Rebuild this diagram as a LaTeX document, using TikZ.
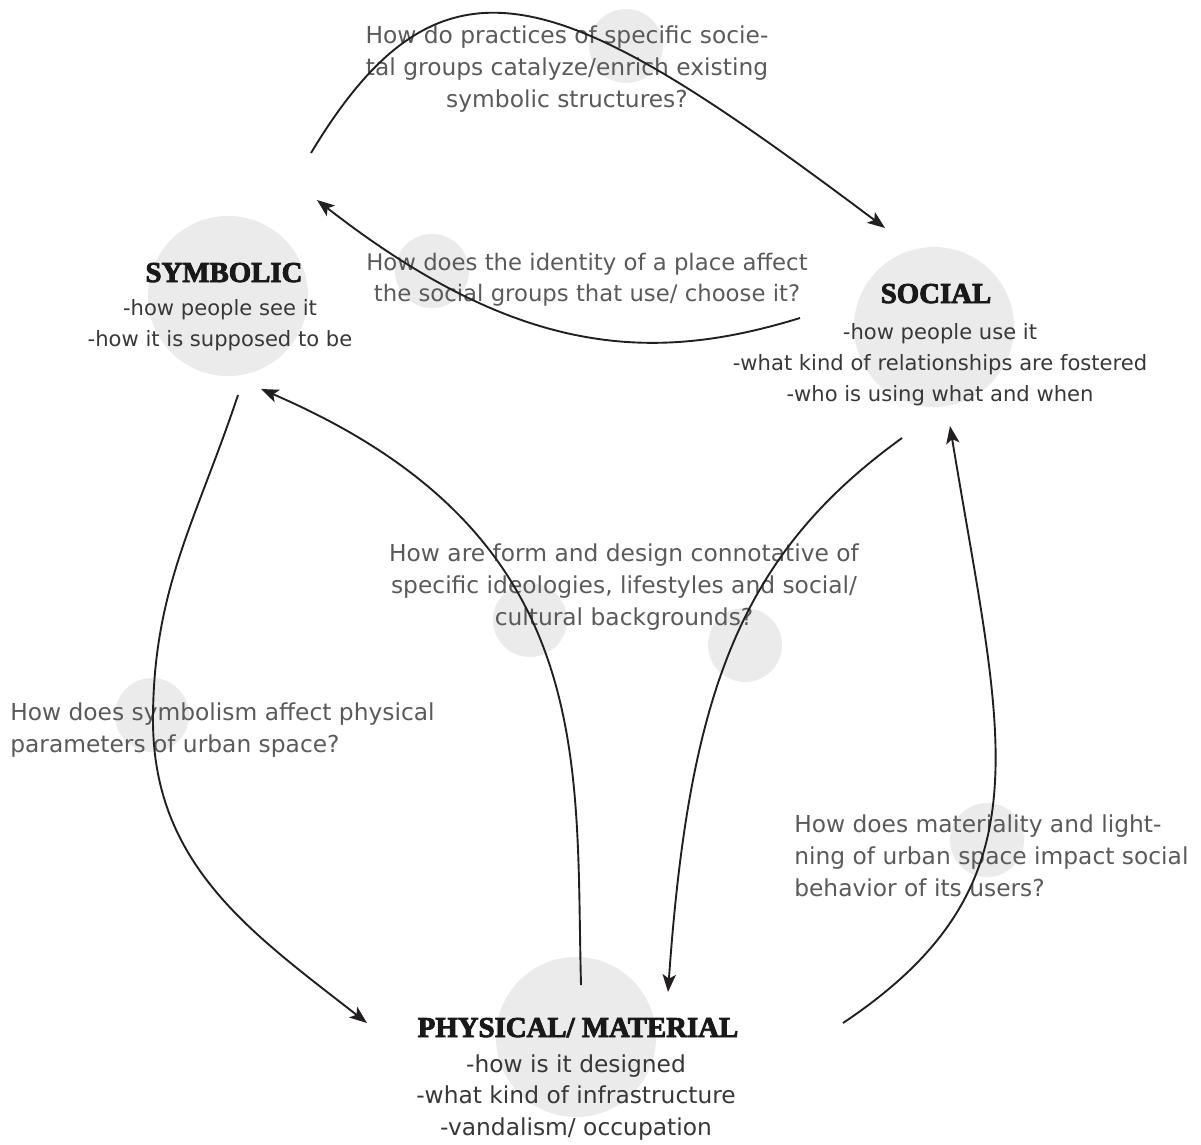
\documentclass[tikz,border=0pt]{standalone}
\usepackage{fontspec}
\setmainfont{DejaVu Sans}
\newfontfamily\stencilfont{Liberation Serif}[BoldFeatures={FakeBold=3}]
\usetikzlibrary{positioning,arrows.meta,calc}
\definecolor{spot}{HTML}{EBEBEB}
\definecolor{qgray}{HTML}{5A5A5A}
\definecolor{itemgray}{HTML}{383838}
\definecolor{ink}{HTML}{231F20}

\begin{document}
\begin{tikzpicture}[
  x=0.025cm, y=0.025cm,
  bigspot/.style={circle, fill=spot, inner sep=0, minimum size=4cm},
  smallspot/.style={circle, fill=spot, inner sep=0, minimum size=1.85cm},
  title/.style={font=\stencilfont\bfseries\fontsize{20.5}{24}\selectfont,
    text=black!90, anchor=base, inner sep=0},
  items/.style={font=\fontsize{16.6}{22.3}\selectfont, text=itemgray,
    align=center, anchor=base, inner sep=0},
  smallitems/.style={items, font=\fontsize{15}{21.8}\selectfont},
  question/.style={font=\fontsize{16.6}{22.6}\selectfont, text=qgray,
    align=center, anchor=base, inner sep=0},
  link/.style={ink, line width=1.35pt,
    -{Stealth[length=12.5pt, width=9.5pt, inset=3pt]}},
  ]
  \useasboundingbox (0,0) rectangle (1201,-1144);

  % spots
  \node[bigspot] (symbolic) at (228,-296) {};
  \node[bigspot] (social) at (934,-327) {};
  \node[bigspot] (physical) at (576,-1037) {};
  \node[smallspot] (spot top) at (626,-46) {};
  \node[smallspot] (spot ident) at (432,-271) {};
  \node[smallspot] (spot form) at (530,-620) {};
  \node[smallspot] (spot back) at (745,-645) {};
  \node[smallspot] (spot sym) at (152,-715) {};
  \node[smallspot] (spot mat) at (987,-840) {};

  % the three fields (base = last line)
  \node[title] (symbolic title) at (224,-282) {SYMBOLIC};
  \node[smallitems] (symbolic items) at (220,-346)
    {-how people see it\\-how it is supposed to be};
  \node[title] (social title) at (936,-303) {SOCIAL};
  \node[smallitems] (social items) at (940,-401)
    {-how people use it\\-what kind of relationships are fostered\\-who is using what and when};
  \node[title] (physical title) at (578,-1037) {PHYSICAL/ MATERIAL};
  \node[items] (physical items) at (576,-1135)
    {-how is it designed\\-what kind of infrastructure\\-vandalism/ occupation};

  % questions
  \node[question] (q top) at (567,-107)
    {How do practices of specific socie-\\tal groups catalyze/enrich existing\\symbolic structures?};
  \node[question, font=\fontsize{16.2}{22}\selectfont] (q ident) at (587,-301)
    {How does the identity of a place affect\\the social groups that use/ choose it?};
  \node[question] (q form) at (624,-625)
    {How are form and design connotative of\\specific ideologies, lifestyles and social/\\cultural backgrounds?};
  \node[question, align=left, anchor=base west] (q sym) at (10,-752)
    {How does symbolism affect physical\\parameters of urban space?};
  \node[question, align=left, anchor=base west] (q mat) at (794,-896)
    {How does materiality and light-\\ning of urban space impact social\\behavior of its users?};

  % arrow ends
  \coordinate (sym top) at (311,-153);
  \coordinate (sym in) at (317,-200);
  \coordinate (sym low) at (238,-395);
  \coordinate (sym bend) at (153,-720);
  \coordinate (sym back) at (261,-389);
  \coordinate (soc top) at (885,-228);
  \coordinate (soc left) at (800,-318);
  \coordinate (soc low) at (902,-438);
  \coordinate (soc back) at (950,-426);
  \coordinate (phy left) at (367,-1023);
  \coordinate (phy up) at (581,-985);
  \coordinate (phy in) at (668,-992);
  \coordinate (phy right) at (843,-1023);

  \draw[link] (sym top) .. controls (445,70) and (565,12) .. (soc top);
  \draw[link] (soc left) .. controls (657,-362) and (522,-360) .. (sym in);
  \draw[link] (sym low) to[out=251.6, in=90] (sym bend)
    to[out=-90, in=142] (phy left);
  \draw[link] (phy up) .. controls (575,-760) and (600,-535) .. (sym back);
  \draw[link] (soc low) .. controls (740,-555) and (689,-693) .. (phy in);
  \draw[link] (phy right) .. controls (1051,-884) and (1002,-742) .. (soc back);
\end{tikzpicture}
\end{document}
